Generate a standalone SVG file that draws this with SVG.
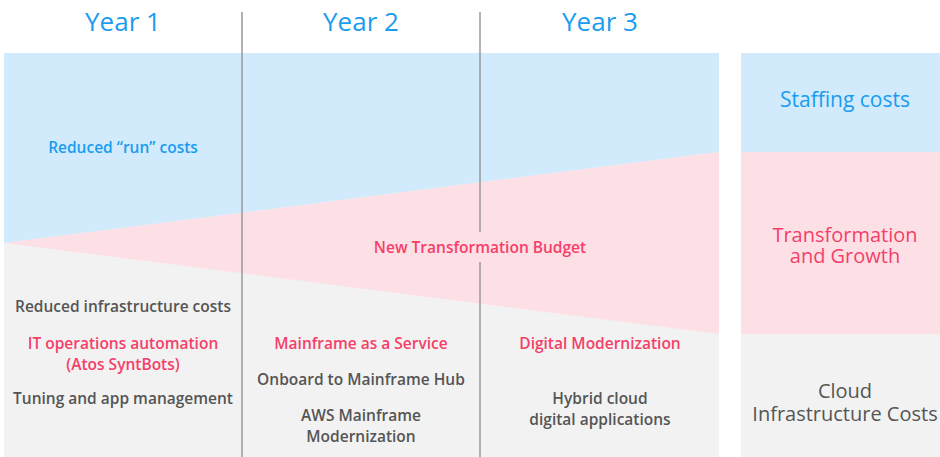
<svg xmlns="http://www.w3.org/2000/svg" width="940" height="457" viewBox="0 0 940 457">
<style>
text{font-family:"Open Sans","Liberation Sans",sans-serif;text-anchor:middle}
.yr{font-size:26px;fill:#1a9cf0}
.b{font-size:15.5px;font-weight:600}
.blue{fill:#1a9cf0}
.pink{fill:#f53f69}
.gray{fill:#555555}
.big{font-size:20px}
.div{stroke:#999999;stroke-width:1.5;fill:none}
</style>
<rect width="940" height="457" fill="#ffffff"/>
<g id="chart">
<rect x="4" y="53" width="715" height="404" fill="#f2f2f2"/>
<polygon points="4,53 719,53 719,152 4,243" fill="#d1ebfd"/>
<polygon points="4,243 719,152 719,334" fill="#fde0e6"/>
</g>
<g id="summary">
<rect x="741" y="53" width="199" height="99" fill="#d1ebfd"/>
<rect x="741" y="152" width="199" height="182" fill="#fde0e6"/>
<rect x="741" y="334" width="199" height="123" fill="#f2f2f2"/>
</g>
<g id="connectors">
<line class="div" x1="242" y1="12" x2="242" y2="457"/>
<line class="div" x1="480" y1="12" x2="480" y2="232"/>
<line class="div" x1="480" y1="262" x2="480" y2="457"/>
</g>
<g id="year1">
<text class="yr" x="123" y="31">Year 1</text>
</g>
<g id="year2">
<text class="yr" x="361" y="31">Year 2</text>
</g>
<g id="year3">
<text class="yr" x="600" y="31">Year 3</text>
</g>
<g id="run-costs">
<text class="b blue" x="123" y="153">Reduced “run” costs</text>
</g>
<g id="budget">
<text class="b pink" x="480" y="253">New Transformation Budget</text>
</g>
<g id="col1">
<text class="b gray" x="123" y="312">Reduced infrastructure costs</text>
<text class="b pink" x="123" y="349">IT operations automation</text>
<text class="b pink" x="123" y="370">(Atos SyntBots)</text>
<text class="b gray" x="123" y="404">Tuning and app management</text>
</g>
<g id="col2">
<text class="b pink" x="361" y="349">Mainframe as a Service</text>
<text class="b gray" x="361" y="385">Onboard to Mainframe Hub</text>
<text class="b gray" x="361" y="421">AWS Mainframe</text>
<text class="b gray" x="361" y="442">Modernization</text>
</g>
<g id="col3">
<text class="b pink" x="600" y="349">Digital Modernization</text>
<text class="b gray" x="600" y="404">Hybrid cloud</text>
<text class="b gray" x="600" y="425">digital applications</text>
</g>
<g id="staffing">
<text class="big blue" x="845" y="107" style="font-size:21px">Staffing costs</text>
</g>
<g id="transformation">
<text class="big pink" x="845" y="242">Transformation</text>
<text class="big pink" x="845" y="263">and Growth</text>
</g>
<g id="cloud">
<text class="big gray" x="845" y="398">Cloud</text>
<text class="big gray" x="845" y="421">Infrastructure Costs</text>
</g>
</svg>
